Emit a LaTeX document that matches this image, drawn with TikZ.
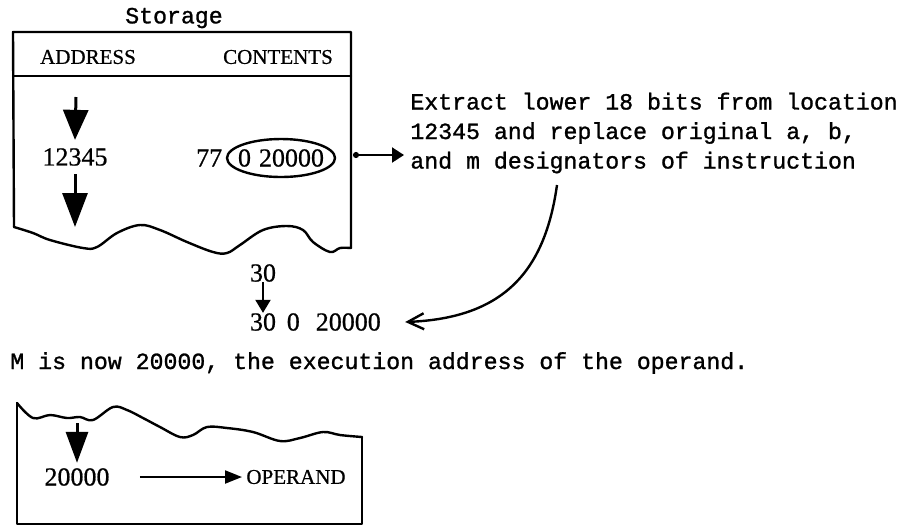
\documentclass[tikz,border=0pt]{standalone}
\usepackage{fontspec}
\setmainfont{Liberation Serif}[FakeBold=0.7]
\newfontfamily\typefont{Liberation Mono}[FakeBold=1.2]
\usetikzlibrary{positioning, calc, arrows.meta}
\tikzset{
  typetext/.style={font=\typefont\fontsize{11.6}{14.75}\selectfont, inner sep=0pt}
}
\tikzset{
  captext/.style={font=\fontsize{10.5}{12}\selectfont, inner sep=0pt},
  numtext/.style={font=\fontsize{13}{15}\selectfont, inner sep=0pt}
}
\tikzset{
  edge/.style={line width=1.2pt, line join=round, line cap=round},
  bigdown/.style={line width=1.5pt, -{Triangle[width=12.5pt,length=15pt]}}
}

\begin{document}
\begin{tikzpicture}[x=0.5pt, y=-0.5pt, >=stealth]
  \useasboundingbox (0,0) rectangle (908,527);
  % storage, torn at the bottom
  \draw[edge] (14,227) -- (13,32) -- (351,32) -- (351,248);
  \draw[edge] (13,76) -- (351,76);
  \draw[edge] plot[smooth, tension=0.6] coordinates {(14,227) (33,233) (50,240) (83,248) (97,247) (117,233) (140,225) (160,230) (187,242) (213,252) (227,253) (240,245) (263,230) (287,226) (303,230) (313,242) (330,252) (340,248) (351,248)};
  \node[typetext] (title) at (174,18) {Storage};
  \node[captext] (addrhead) at (88,57) {ADDRESS};
  \node[captext] (conthead) at (278,57) {CONTENTS};
  \node[numtext] (addr) at (75,157) {12345};
  \node[numtext] (field) at (281,158) {0\hspace{4pt}20000};
  \node[numtext, left=7.5pt of field] (op77) {77};
  \draw[edge] (field) ellipse [x radius=27pt, y radius=9.5pt];
  \coordinate (arrtopA) at (76,97);
  \coordinate (arrbotA) at (75,227);
  \draw[bigdown] (arrtopA) -- ([yshift=4pt]addr.north);
  \draw[bigdown, -{Triangle[width=12.5pt,length=17pt]}] ([yshift=-4pt]addr.south) -- (arrbotA);
  % note and the new instruction
  \node[typetext, align=left, anchor=west] (note) at (410,133) {Extract lower 18 bits from location\\12345 and replace original a, b,\\and m designators of instruction};
  \coordinate (boxE) at (353,155);
  \draw[line width=1pt, {Circle[length=3pt]}-{Triangle[length=6pt,width=7.5pt]}, shorten >=3pt] (boxE) -- (boxE -| note.west);
  \node[numtext] (op30) at (263,273) {30};
  \node[numtext] (res30) at (263,322) {30};
  \node[numtext, right=5pt of res30] (resrest) {0\hspace{8pt}20000};
  \draw[line width=1pt, -{Triangle[length=6.5pt,width=7.5pt]}] (op30.south) -- (res30.north);
  \coordinate (bend) at (557,185);
  \draw[line width=1.2pt, -{Straight Barb[length=8pt,width=8pt]}] (bend) .. controls (545,270) and (505,318) .. ([xshift=12pt]resrest.east);
  \node[typetext, anchor=west] (mline) at (10,363) {M is now 20000, the execution address of the operand.};
  % operand end of storage
  \draw[edge] (17,403) -- (17,524) -- (362,524) -- (362,437);
  \draw[edge] plot[smooth, tension=0.6] coordinates {(17,403) (33,418) (50,415) (67,418) (80,417) (93,420) (113,407) (127,410) (143,418) (160,427) (180,437) (193,435) (207,427) (227,428) (253,432) (280,441) (300,438) (323,432) (340,435) (362,437)};
  \node[numtext] (target) at (77,477) {20000};
  \node[captext] (operand) at (296,477) {OPERAND};
  \coordinate (arrtopB) at (77,423);
  \draw[bigdown, -{Triangle[width=11pt,length=15.5pt]}, shorten >=2.5pt] (arrtopB) -- (target.north);
  \draw[line width=1pt, -{Triangle[length=8.5pt,width=6.5pt]}] ([xshift=15pt]target.east) -- ([xshift=-2pt]operand.west);
\end{tikzpicture}
\end{document}
